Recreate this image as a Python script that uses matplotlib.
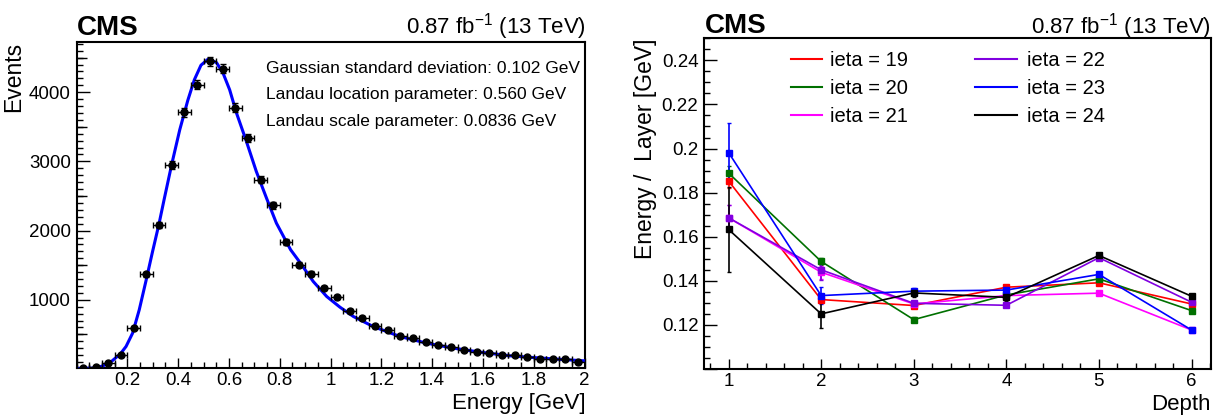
import numpy as np
import matplotlib
matplotlib.use("Agg")
import matplotlib.pyplot as plt
from matplotlib.lines import Line2D
from matplotlib.ticker import MultipleLocator, FuncFormatter

plt.rcParams['font.family'] = 'Liberation Sans'
plt.rcParams['mathtext.fontset'] = 'custom'
plt.rcParams['mathtext.rm'] = 'Liberation Sans'

# Left: energy distribution (bins of 0.05 GeV)
bin_width = 0.05
counts = [8, 32, 85, 195, 595, 1366, 2079, 2947, 3707, 4107,
          4444, 4338, 3779, 3345, 2734, 2363, 1834, 1506, 1376, 1169,
          1039, 841, 744, 624, 566, 470, 446, 397, 350, 316,
          277, 244, 230, 205, 196, 176, 143, 143, 138, 99]
count_err = [3, 6, 9, 14, 24, 37, 46, 54, 61, 64,
             67, 66, 61, 58, 52, 49, 43, 39, 37, 34,
             32, 29, 27, 25, 24, 22, 21, 20, 19, 18,
             17, 16, 15, 14, 14, 13, 12, 12, 12, 10]
centers = np.arange(len(counts)) * bin_width + bin_width / 2

# fitted curve
fit_x = [0.0, 0.066, 0.10, 0.13, 0.173, 0.195, 0.221, 0.247, 0.273, 0.299,
         0.325, 0.345, 0.375, 0.4065, 0.438, 0.464, 0.49, 0.518, 0.551, 0.577,
         0.603, 0.63, 0.669, 0.708, 0.748, 0.787, 0.843, 0.88, 0.932, 0.985,
         1.037, 1.09, 1.168, 1.273, 1.378, 1.483, 1.588, 1.706, 1.8, 1.9, 2.0]
fit_y = [8, 13, 40, 85, 220, 325, 519, 855, 1265, 1690,
         2100, 2450, 2960, 3457, 3880, 4180, 4390, 4478, 4429, 4276,
         4035, 3698, 3288, 2854, 2470, 2108, 1723, 1539, 1265, 1048,
         894, 759, 614, 470, 374, 302, 244, 191, 165, 140, 118]

fit_text = ["Gaussian standard deviation: 0.102 GeV",
            "Landau location parameter: 0.560 GeV",
            "Landau scale parameter: 0.0836 GeV"]

# Right: energy per layer vs depth
depth = [1, 2, 3, 4, 5, 6]
ieta_labels = ["ieta = 19", "ieta = 20", "ieta = 21", "ieta = 22", "ieta = 23", "ieta = 24"]
ieta19 = [0.1853, 0.1315, 0.1288, 0.1371, 0.1391, 0.1295]
ieta20 = [0.1889, 0.1488, 0.1224, 0.1336, 0.1409, 0.1265]
ieta21 = [0.1686, 0.1439, 0.1295, 0.1333, 0.1344, 0.1177]
ieta22 = [0.1686, 0.1450, 0.1298, 0.1289, 0.1505, 0.1303]
ieta23 = [0.1982, 0.1333, 0.1353, 0.1358, 0.1429, 0.1177]
ieta24 = [0.1633, 0.1250, 0.1345, 0.1325, 0.1515, 0.1330]
err19 = [0.003, 0.0015, 0.001, 0.001, 0.001, 0.001]
err20 = [0.003, 0.0015, 0.001, 0.001, 0.001, 0.001]
err21 = [0.006, 0.003, 0.001, 0.001, 0.001, 0.001]
err22 = [0.006, 0.0045, 0.001, 0.001, 0.001, 0.001]
err23 = [0.0134, 0.004, 0.0015, 0.001, 0.001, 0.001]
err24 = [0.0193, 0.0064, 0.002, 0.0015, 0.001, 0.001]
colors = ['#ff0000', '#007000', '#ff00ff', '#8000e0', '#0000ff', '#000000']

W, H = 1226, 415
fig = plt.figure(figsize=(W / 100, H / 100), dpi=100)


def px_axes(x0, y0, x1, y1):
    return fig.add_axes([x0 / W, 1 - y1 / H, (x1 - x0) / W, (y1 - y0) / H])


def fmt_g(v, pos):
    return "%g" % round(v, 3)


# ---------- left panel ----------
ax1 = px_axes(76.5, 41.7, 584.5, 368.3)
ax1.plot(fit_x, fit_y, color='#0000ff', lw=2.2, zorder=3)
ax1.errorbar(centers, counts, xerr=bin_width / 2, yerr=count_err, fmt='o',
             color='black', ms=5, elinewidth=1, capsize=2, capthick=1, zorder=4)
ax1.set_xlim(0, 2)
ax1.set_ylim(10, 4730)
ax1.xaxis.set_major_locator(MultipleLocator(0.2))
ax1.xaxis.set_minor_locator(MultipleLocator(0.05))
ax1.yaxis.set_major_locator(MultipleLocator(1000))
ax1.yaxis.set_minor_locator(MultipleLocator(100))
ax1.xaxis.set_major_formatter(FuncFormatter(lambda v, p: "" if abs(v) < 1e-9 else fmt_g(v, p)))
sec = ax1.secondary_yaxis('left')
sec.set_yticks([500, 1500, 2500, 3500, 4500])
sec.tick_params(direction='in', length=7, width=1, labelleft=False)
sec.spines['left'].set_visible(False)

for i, t in enumerate(fit_text):
    fig.text(266 / W, 1 - [73.3, 99.3, 126][i] / H, t, fontsize=12.5, va='baseline')

# ---------- right panel ----------
ax2 = px_axes(704, 38.3, 1211, 369)
series = [ieta19, ieta20, ieta21, ieta22, ieta23, ieta24]
errs = [err19, err20, err21, err22, err23, err24]
for vals, e, c in zip(series, errs, colors):
    ax2.errorbar(depth, vals, yerr=e, fmt='-s', color=c, ms=4.5, lw=1.2,
                 elinewidth=1.2, capsize=1.5)
ax2.set_xlim(0.735, 6.21)
ax2.set_ylim(0.1, 0.25)
ax2.xaxis.set_major_locator(MultipleLocator(1))
ax2.xaxis.set_minor_locator(MultipleLocator(0.2))
ax2.yaxis.set_major_locator(MultipleLocator(0.02))
ax2.yaxis.set_minor_locator(MultipleLocator(0.005))
ax2.yaxis.set_major_formatter(FuncFormatter(lambda v, p: "" if v < 0.105 else fmt_g(v, p)))

handles = [Line2D([], [], color=c, lw=1.5) for c in colors]
leg1 = ax2.legend(handles[:3], ieta_labels[:3], loc='upper left', bbox_to_anchor=(0.171, 0.962),
                  frameon=False, fontsize=14.5, borderpad=0, borderaxespad=0,
                  handlelength=1.55, handletextpad=0.4, labelspacing=0.44)
ax2.add_artist(leg1)
ax2.legend(handles[3:], ieta_labels[3:], loc='upper left', bbox_to_anchor=(0.5345, 0.962),
           frameon=False, fontsize=14.5, borderpad=0, borderaxespad=0,
           handlelength=2.1, handletextpad=0.48, labelspacing=0.44)

for ax in (ax1, ax2):
    for s in ax.spines.values():
        s.set_linewidth(1.5)
    ax.tick_params(which='both', direction='in', top=False, right=False, labelsize=13.5)
    ax.tick_params(axis='y', which='major', length=9, width=1, pad=4)
    ax.tick_params(axis='y', which='minor', length=4.5, width=1)
    ax.tick_params(axis='x', which='major', length=7.5, width=1, pad=3)
    ax.tick_params(axis='x', which='minor', length=4, width=1)

# ---------- titles and axis labels ----------
fig.text(77 / W, 1 - 35 / H, "CMS", fontsize=20, fontweight='bold', va='baseline')
fig.text(705 / W, 1 - 33.3 / H, "CMS", fontsize=20, fontweight='bold', va='baseline')
fig.text(585.5 / W, 1 - 33.3 / H, r"0.87 fb$^{-1}$ (13 TeV)", fontsize=16, ha='right', va='baseline')
fig.text(1211 / W, 1 - 33.3 / H, r"0.87 fb$^{-1}$ (13 TeV)", fontsize=16, ha='right', va='baseline')
fig.text(25 / W, 1 - 42 / H, "Events", fontsize=16.5, rotation=90, ha='right', va='top')
fig.text(657 / W, 1 - 38.3 / H, "Energy /  Layer [GeV]", fontsize=16.5, rotation=90, ha='right', va='top')
fig.text(585.5 / W, 1 - 408.5 / H, "Energy [GeV]", fontsize=16, ha='right', va='baseline')
fig.text(1211 / W, 1 - 409.5 / H, "Depth", fontsize=16, ha='right', va='baseline')

fig.savefig("out.png", dpi=100)
